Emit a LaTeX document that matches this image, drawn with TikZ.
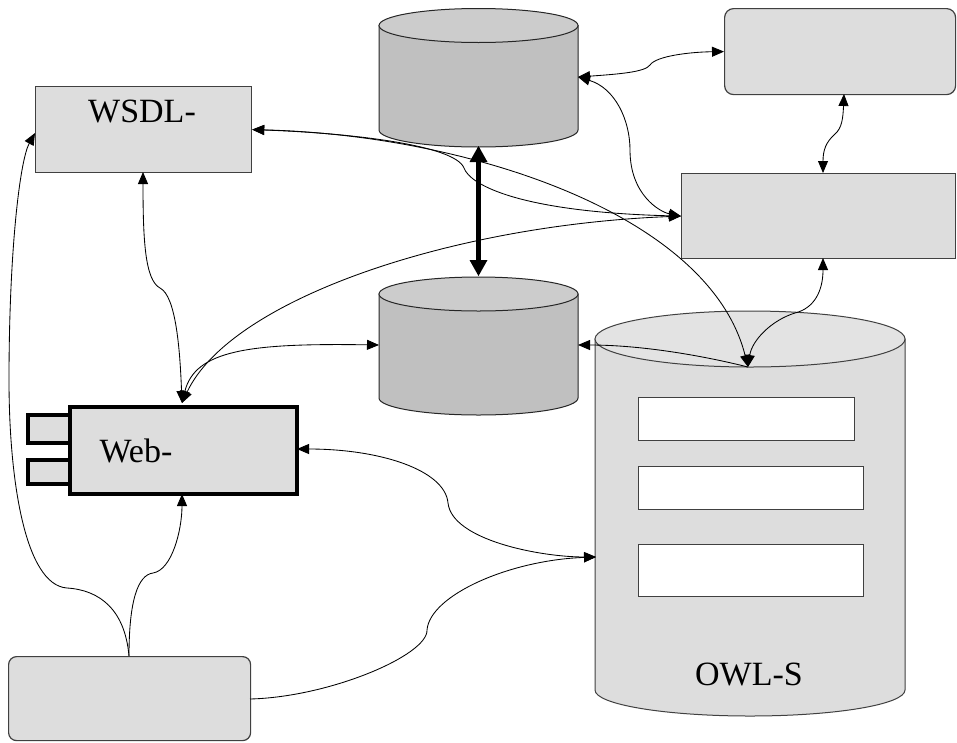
\documentclass[tikz,border=0pt]{standalone}
\usepackage{fontspec}
\setmainfont{Liberation Serif}
\usetikzlibrary{arrows.meta,calc}
\definecolor{boxgray}{HTML}{DDDDDD}
\definecolor{dbbody}{HTML}{C0C0C0}
\definecolor{dbtop}{HTML}{CCCCCC}
\definecolor{owltop}{HTML}{E3E3E3}
\definecolor{edgegray}{HTML}{404040}
\begin{document}
\begin{tikzpicture}[x=1pt,y=-1pt,
  box/.style={draw=edgegray, fill=boxgray, line width=1.2pt, inner sep=0pt, anchor=north west},
  whitebox/.style={draw=edgegray, fill=white, line width=1pt, inner sep=0pt, anchor=north west},
  webbox/.style={draw=black, fill=boxgray, line width=3.5pt, inner sep=0pt, anchor=north west},
  cyl/.style={draw=black!85, line width=1pt},
  conn/.style={draw=black, line width=0.85pt},
  tipend/.style={-{Triangle[length=12pt,width=10pt]}},
  tipboth/.style={{Triangle[length=12pt,width=10pt]}-{Triangle[length=12pt,width=10pt]}},
  lbl/.style={font=\fontsize{34}{40}\selectfont, anchor=base, inner sep=0pt}]

\useasboundingbox (0,0) rectangle (957,742);

% --- cylinders ---
\filldraw[cyl, fill=dbbody] (379,25.5) -- (379,130) arc[start angle=180, end angle=0, x radius=99.5, y radius=17] -- (578,25.5) -- cycle;
\filldraw[cyl, fill=dbtop] (478.5,25.5) ellipse [x radius=99.5, y radius=17];

\filldraw[cyl, fill=dbbody] (379,294) -- (379,398) arc[start angle=180, end angle=0, x radius=99.5, y radius=17] -- (578,294) -- cycle;
\filldraw[cyl, fill=dbtop] (478.5,294) ellipse [x radius=99.5, y radius=17];

\filldraw[cyl, draw=edgegray, fill=boxgray] (595,339) -- (595,690) arc[start angle=180, end angle=0, x radius=155, y radius=26] -- (905,339) -- cycle;
\filldraw[cyl, draw=edgegray, fill=owltop] (750,339) ellipse [x radius=155, y radius=28];

% --- boxes ---
\node[box, minimum width=216pt, minimum height=86pt] (wsdl) at (35,86) {};
\node[box, rounded corners=9pt, minimum width=231pt, minimum height=86pt] (tr) at (724,8) {};
\node[box, minimum width=274pt, minimum height=85pt] (mr) at (681,173) {};
\node[box, rounded corners=8pt, minimum width=242pt, minimum height=84pt] (bl) at (8,656) {};

\node[webbox, minimum width=42pt, minimum height=28pt] (tab1) at (26,413) {};
\node[webbox, minimum width=42pt, minimum height=24pt] (tab2) at (26,458) {};
\node[webbox, minimum width=227pt, minimum height=87pt] (web) at (68,405) {};

\node[whitebox, minimum width=216pt, minimum height=43pt] (r1) at (638,397) {};
\node[whitebox, minimum width=225pt, minimum height=43pt] (r2) at (638,466) {};
\node[whitebox, minimum width=225pt, minimum height=52pt] (r3) at (638,544) {};

% --- labels ---
\node[lbl] (wsdlt) at (142,122) {WSDL-};
\node[lbl] (webt) at (136,462) {Web-};
\node[lbl] (owlt) at (749,685) {OWL-S};

% --- connection points ---
\coordinate (db1E) at (578,77);
\coordinate (db1S) at (478.5,146);
\coordinate (db2N) at (478.5,276);
\coordinate (db2W) at (379,345);
\coordinate (db2E) at (578,345);
\coordinate (owlT) at (748,367);
\coordinate (owlW) at (596,557);
\coordinate (trL) at (tr.west);
\coordinate (trB) at (844,94);
\coordinate (mrL) at (mr.west);
\coordinate (mrT) at (823,173);
\coordinate (mrB) at (823,258);
\coordinate (wsdlE) at (wsdl.east);
\coordinate (wsdlS) at (143,172);
\coordinate (wsdlW) at (35,133);
\coordinate (webN) at (182,403);
\coordinate (webE) at (297,449);
\coordinate (webS) at (182,494);
\coordinate (blN) at (129,656);
\coordinate (blE) at (250,699);

% --- connectors ---
\draw[line width=5pt, {Triangle[length=16pt,width=18pt,line width=0pt]}-{Triangle[length=16pt,width=18pt,line width=0pt]}] (db1S) -- (db2N);

\draw[conn, tipboth] (db1E) .. controls (620,74) and (645,72) .. (650,65) .. controls (656,56) and (690,52) .. (trL);
\draw[conn, tipboth] (db1E) .. controls (615,88) and (630,120) .. (630,150) .. controls (630,195) and (660,212) .. (mrL);
\draw[conn, tipboth] (wsdlE) .. controls (350,133) and (455,145) .. (464,168) .. controls (470,185) and (520,212) .. (mrL);
\draw[conn, tipboth] (wsdlE) .. controls (470,135) and (710,215) .. (owlT);
\draw[conn, tipboth] (wsdlS) .. controls (143,240) and (145,280) .. (160,288) .. controls (176,296) and (180,350) .. (webN);
\draw[conn, tipboth] (webN) .. controls (230,300) and (450,225) .. (mrL);
\draw[conn, tipboth] (webN) .. controls (195,350) and (250,343) .. (db2W);
\draw[conn, tipend] (owlT) .. controls (700,355) and (640,345) .. (db2E);
\draw[conn, tipboth] (mrB) .. controls (823,290) and (815,308) .. (795,313) .. controls (772,320) and (752,340) .. (owlT);
\draw[conn, tipboth] (trB) .. controls (843,118) and (842,128) .. (835,134) .. controls (826,142) and (823,150) .. (mrT);
\draw[conn, tipboth] (webE) .. controls (380,449) and (445,470) .. (448,503) .. controls (452,540) and (540,557) .. (owlW);
\draw[conn, tipend] (blE) .. controls (330,697) and (428,655) .. (427,630) .. controls (430,595) and (510,560) .. (owlW);
\draw[conn, tipend] (blN) .. controls (129,600) and (138,575) .. (153,573) .. controls (172,570) and (182,530) .. (webS);
\draw[conn, tipend] (blN) .. controls (125,610) and (100,590) .. (67,588) .. controls (25,585) and (9,480) .. (9,380) .. controls (9,250) and (20,160) .. (wsdlW);
\end{tikzpicture}
\end{document}
